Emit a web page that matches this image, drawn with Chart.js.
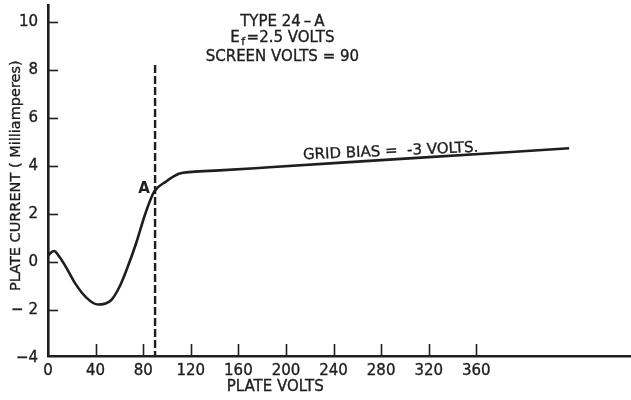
<!DOCTYPE html>
<html><head><meta charset="utf-8">
<script src="https://cdn.jsdelivr.net/npm/chart.js@4/dist/chart.umd.min.js"></script>
<style>html,body{margin:0;padding:0;background:#fff}#wrap{width:631px;height:400px}</style>
</head><body><div id="wrap"><canvas id="c" width="631" height="400"></canvas></div>
<script>
// ---- data ----
const plateVolts   = [0, 5, 10, 15, 23, 32, 42, 53, 60, 67, 74, 82, 89, 99, 110, 121, 144, 186, 300, 438];
const plateCurrent = [0.29, 0.47, 0.2, -0.19, -0.89, -1.46, -1.76, -1.58, -1.03, -0.19, 0.78, 2.05, 2.92, 3.35, 3.68, 3.76, 3.82, 3.95, 4.31, 4.74];
const screenLineVolts   = [90, 90];
const screenLineCurrent = [8.2, -3.9];
const xTickValues = [0, 40, 80, 120, 160, 200, 240, 280, 320, 360];
const xTickLabels = ['0', '40', '80', '120', '160', '200', '240', '280', '320', '360'];
const yTickValues = [-4, -2, 0, 2, 4, 6, 8, 10];
const yTickLabels = ['\u22124', '\u2212 2', '0', '2', '4', '6', '8', '10'];
const titleLines = ['TYPE 24\u2009\u2013\u2009A', '=2.5 VOLTS', 'SCREEN VOLTS = 90'];
const curveLabel = 'GRID BIAS =  -3 VOLTS.';
const pointLabel = 'A';
const xTitle = 'PLATE VOLTS';
const yTitle = 'PLATE CURRENT ( Milliamperes)';

const INK = '#1e1e1e';
const FONT = '"DejaVu Sans", "Liberation Sans", Arial, sans-serif';

const toXY = (xs, ys) => xs.map((v, i) => ({x: v, y: ys[i]}));

function txt(ctx, s, x, y) {
  ctx.fillText(s, x, y);
  ctx.strokeText(s, x, y);
}

const overlay = {
  id: 'overlay',
  afterDraw(chart) {
    const {ctx, scales: {x, y}, chartArea: a} = chart;
    ctx.save();
    ctx.strokeStyle = INK;
    ctx.fillStyle = INK;
    ctx.lineWidth = 1.6;
    // inward tick marks
    x.ticks.forEach(t => {
      if (t.value === 0) return;
      const px = Math.round(x.getPixelForValue(t.value)) + 0.5;
      ctx.beginPath(); ctx.moveTo(px, a.bottom); ctx.lineTo(px, a.bottom - 12); ctx.stroke();
    });
    y.ticks.forEach(t => {
      if (t.value === yTickValues[0]) return;
      const py = Math.round(y.getPixelForValue(t.value)) + 0.5;
      ctx.beginPath(); ctx.moveTo(a.left, py); ctx.lineTo(a.left + 10, py); ctx.stroke();
    });
    ctx.lineWidth = 0.35;
    // header text
    ctx.textAlign = 'center';
    ctx.textBaseline = 'middle';
    ctx.font = '15px ' + FONT;
    const cx = x.getPixelForValue(197);
    txt(ctx, titleLines[0], cx, 22.5);
    const w1 = ctx.measureText('E').width;
    ctx.font = '11px ' + FONT;
    const wf = ctx.measureText('f').width;
    ctx.font = '15px ' + FONT;
    const w2 = ctx.measureText(titleLines[1]).width;
    const tot = w1 + wf + 3 + w2;
    const sx = cx - tot / 2;
    ctx.textAlign = 'left';
    txt(ctx, 'E', sx, 38);
    ctx.font = '11px ' + FONT;
    txt(ctx, 'f', sx + w1 + 1.5, 42);
    ctx.font = '15px ' + FONT;
    txt(ctx, titleLines[1], sx + w1 + wf + 3, 38);
    ctx.textAlign = 'center';
    txt(ctx, titleLines[2], cx, 57.5);
    // point label A
    ctx.font = 'bold 15px ' + FONT;
    ctx.fillText(pointLabel, 144, y.getPixelForValue(3.05));
    // curve label
    ctx.save();
    ctx.translate(x.getPixelForValue(288), y.getPixelForValue(4.6));
    ctx.rotate(-2.5 * Math.PI / 180);
    ctx.font = '15px ' + FONT;
    txt(ctx, curveLabel, 0, 0);
    ctx.restore();
    // axis titles
    ctx.font = '15px ' + FONT;
    txt(ctx, xTitle, x.getPixelForValue(191), 387);
    ctx.save();
    ctx.translate(16, y.getPixelForValue(3.6));
    ctx.rotate(-Math.PI / 2);
    ctx.font = '14.5px ' + FONT;
    txt(ctx, yTitle, 0, 0);
    ctx.restore();
    ctx.restore();
  }
};

new Chart(document.getElementById('c'), {
  type: 'line',
  data: {
    datasets: [
      {
        data: toXY(plateVolts, plateCurrent),
        borderColor: INK, borderWidth: 2.6, pointRadius: 0,
        cubicInterpolationMode: 'monotone', fill: false
      },
      {
        data: toXY(screenLineVolts, screenLineCurrent),
        borderColor: INK, borderWidth: 2.4, borderDash: [8, 3], pointRadius: 0, fill: false
      }
    ]
  },
  options: {
    responsive: false,
    animation: false,
    devicePixelRatio: 1,
    layout: {padding: {top: 5, right: 0, left: 0, bottom: 0}},
    plugins: {legend: {display: false}, tooltip: {enabled: false}, title: {display: false}},
    scales: {
      x: {
        type: 'linear', min: 0, max: 490,
        afterBuildTicks: s => { s.ticks = xTickValues.map(v => ({value: v})); },
        afterFit: s => { s.height = 44; s.paddingLeft = 0; s.paddingRight = 0; },
        grid: {display: false, drawTicks: false},
        border: {display: true, color: INK, width: 2.6},
        ticks: {
          color: INK, padding: 6, maxRotation: 0, autoSkip: false,
          textStrokeColor: INK, textStrokeWidth: 0.35,
          font: {family: FONT, size: 15},
          callback: (v) => { const i = xTickValues.indexOf(v); return i >= 0 ? xTickLabels[i] : ''; }
        }
      },
      y: {
        type: 'linear', min: -3.9, max: 10.7,
        afterBuildTicks: s => { s.ticks = yTickValues.map(v => ({value: v})); },
        afterFit: s => { s.width = 48; s.paddingTop = 0; s.paddingBottom = 0; },
        grid: {display: false, drawTicks: false},
        border: {display: true, color: INK, width: 2.6},
        ticks: {
          color: INK, padding: 10, autoSkip: false,
          textStrokeColor: INK, textStrokeWidth: 0.35,
          font: {family: FONT, size: 15},
          callback: (v) => { const i = yTickValues.indexOf(v); return i >= 0 ? yTickLabels[i] : ''; }
        }
      }
    }
  },
  plugins: [overlay]
});
</script>
</body></html>
